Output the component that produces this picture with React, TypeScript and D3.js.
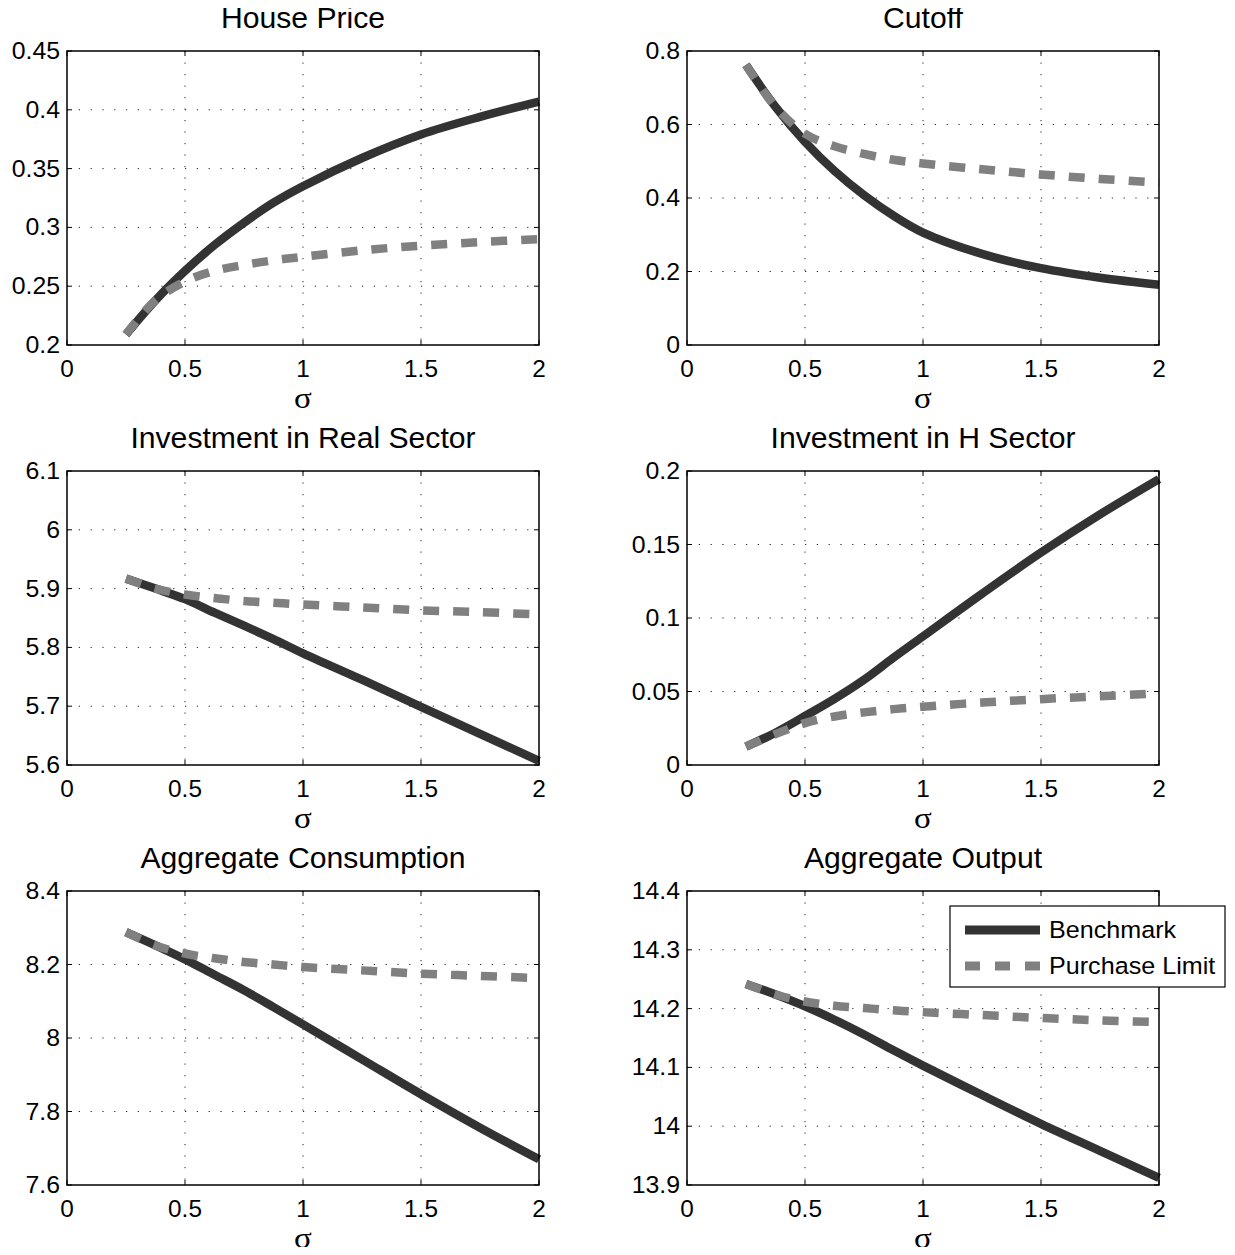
import { useEffect, useRef } from 'react';
import * as d3 from 'd3';

// sigma grid shared by all panels
const sigma = [0.25, 0.375, 0.5, 0.625, 0.75, 0.875, 1, 1.25, 1.5, 1.75, 2];
const xTicks = [0, 0.5, 1, 1.5, 2];

const housePriceBench = [0.209, 0.238, 0.263, 0.285, 0.304, 0.321, 0.335, 0.359, 0.379, 0.394, 0.407];
const housePriceLimit = [0.209, 0.238, 0.254, 0.263, 0.268, 0.272, 0.275, 0.2805, 0.2845, 0.2875, 0.29];

const cutoffBench = [0.762, 0.648, 0.553, 0.474, 0.408, 0.352, 0.306, 0.248, 0.209, 0.183, 0.164];
const cutoffLimit = [0.762, 0.648, 0.575, 0.541, 0.52, 0.504, 0.494, 0.478, 0.464, 0.452, 0.442];

const invRealBench = [5.917, 5.9, 5.882, 5.859, 5.837, 5.814, 5.79, 5.745, 5.699, 5.653, 5.607];
const invRealLimit = [5.917, 5.9, 5.89, 5.884, 5.879, 5.876, 5.873, 5.868, 5.863, 5.86, 5.856];

const invHBench = [0.0125, 0.022, 0.0333, 0.045, 0.058, 0.073, 0.0875, 0.1165, 0.1445, 0.1705, 0.1945];
const invHLimit = [0.0125, 0.021, 0.0285, 0.033, 0.0358, 0.038, 0.0397, 0.0425, 0.0448, 0.0468, 0.0487];

const consBench = [8.288, 8.252, 8.214, 8.172, 8.13, 8.084, 8.037, 7.942, 7.847, 7.756, 7.67];
const consLimit = [8.288, 8.252, 8.23, 8.217, 8.207, 8.2, 8.193, 8.184, 8.175, 8.169, 8.163];

const outBench = [14.242, 14.224, 14.204, 14.181, 14.156, 14.129, 14.103, 14.053, 14.004, 13.958, 13.912];
const outLimit = [14.242, 14.224, 14.212, 14.205, 14.201, 14.197, 14.194, 14.189, 14.184, 14.18, 14.177];

const panels = [
  { title: 'House Price', bench: housePriceBench, limit: housePriceLimit, yDomain: [0.2, 0.45], yTicks: [0.2, 0.25, 0.3, 0.35, 0.4, 0.45] },
  { title: 'Cutoff', bench: cutoffBench, limit: cutoffLimit, yDomain: [0, 0.8], yTicks: [0, 0.2, 0.4, 0.6, 0.8] },
  { title: 'Investment in Real Sector', bench: invRealBench, limit: invRealLimit, yDomain: [5.6, 6.1], yTicks: [5.6, 5.7, 5.8, 5.9, 6, 6.1] },
  { title: 'Investment in H Sector', bench: invHBench, limit: invHLimit, yDomain: [0, 0.2], yTicks: [0, 0.05, 0.1, 0.15, 0.2] },
  { title: 'Aggregate Consumption', bench: consBench, limit: consLimit, yDomain: [7.6, 8.4], yTicks: [7.6, 7.8, 8, 8.2, 8.4] },
  { title: 'Aggregate Output', bench: outBench, limit: outLimit, yDomain: [13.9, 14.4], yTicks: [13.9, 14, 14.1, 14.2, 14.3, 14.4] },
];

const legendLabels = ['Benchmark', 'Purchase Limit'];

const BENCH_COLOR = '#333333';
const LIMIT_COLOR = '#808080';
const FONT = '"Liberation Sans", Arial, Helvetica, sans-serif';

// text with an optional horizontal stretch
function addText(parent: any, x: number, y: number, str: string, size: number, anchor: string, sx: number, family = FONT) {
  parent.append('g')
    .attr('transform', `translate(${x},${y}) scale(${sx},1)`)
    .append('text')
    .attr('text-anchor', anchor)
    .attr('font-family', family)
    .attr('font-size', size)
    .attr('fill', '#000')
    .text(str);
}

export default function App() {
  const svgRef = useRef<SVGSVGElement | null>(null);

  useEffect(() => {
    if (!svgRef.current) return;
    const svg = d3.select(svgRef.current);
    svg.selectAll('*').remove();

    const width = 1235;
    const height = 1255;
    svg.attr('width', width).attr('height', height);

    svg.append('rect').attr('width', width).attr('height', height).attr('fill', '#fff');

    // plot box positions
    const colX = [67, 687];
    const rowY = [51, 471, 891];
    const w = 472;
    const h = 294;

    panels.forEach((p, i) => {
      const col = i % 2;
      const row = Math.floor(i / 2);
      const g = svg.append('g').attr('transform', `translate(${colX[col]},${rowY[row]})`);

      const x = d3.scaleLinear().domain([0, 2]).range([0, w]);
      const y = d3.scaleLinear().domain(p.yDomain).range([h, 0]);

      // dotted grid
      xTicks.slice(1, -1).forEach(t => {
        g.append('line')
          .attr('x1', x(t)).attr('x2', x(t)).attr('y1', 0).attr('y2', h)
          .attr('stroke', '#222').attr('stroke-width', 1)
          .attr('stroke-dasharray', '1.2,10.3');
      });
      p.yTicks.slice(1, -1).forEach(t => {
        g.append('line')
          .attr('x1', 0).attr('x2', w).attr('y1', y(t)).attr('y2', y(t))
          .attr('stroke', '#222').attr('stroke-width', 1)
          .attr('stroke-dasharray', '1.2,10.6');
      });

      // curves
      const line = d3.line<number>()
        .x((d, j) => x(sigma[j]))
        .y(d => y(d))
        .curve(d3.curveCatmullRom.alpha(0.5));

      g.append('path')
        .datum(p.bench)
        .attr('fill', 'none')
        .attr('stroke', BENCH_COLOR)
        .attr('stroke-width', 8.5)
        .attr('d', line);

      g.append('path')
        .datum(p.limit)
        .attr('fill', 'none')
        .attr('stroke', LIMIT_COLOR)
        .attr('stroke-width', 8.5)
        .attr('stroke-dasharray', '16,14')
        .attr('d', line);

      // box
      g.append('rect')
        .attr('width', w).attr('height', h)
        .attr('fill', 'none').attr('stroke', '#000').attr('stroke-width', 1.5);

      // ticks (inward, all sides)
      const tl = 5;
      xTicks.forEach(t => {
        g.append('line').attr('x1', x(t)).attr('x2', x(t)).attr('y1', h).attr('y2', h - tl).attr('stroke', '#000');
        g.append('line').attr('x1', x(t)).attr('x2', x(t)).attr('y1', 0).attr('y2', tl).attr('stroke', '#000');
        addText(g, x(t), h + 32, d3.format('~g')(t), 23, 'middle', 1.06);
      });
      p.yTicks.forEach(t => {
        g.append('line').attr('x1', 0).attr('x2', tl).attr('y1', y(t)).attr('y2', y(t)).attr('stroke', '#000');
        g.append('line').attr('x1', w).attr('x2', w - tl).attr('y1', y(t)).attr('y2', y(t)).attr('stroke', '#000');
        addText(g, -7, y(t) + 8, d3.format('~g')(t), 23, 'end', 1.08);
      });

      // title
      addText(g, w / 2, -23, p.title, 29, 'middle', 1.04);

      // x label
      addText(g, w / 2, h + 63, 'σ', 30, 'middle', 1.1, '"Liberation Serif", "DejaVu Serif", serif');
    });

    // legend in last panel
    const lg = svg.append('g').attr('transform', 'translate(950,906)');
    lg.append('rect')
      .attr('width', 275).attr('height', 81)
      .attr('fill', '#fff').attr('stroke', '#000').attr('stroke-width', 1.2);
    [BENCH_COLOR, LIMIT_COLOR].forEach((c, i) => {
      const yy = 24 + i * 36;
      lg.append('line')
        .attr('x1', 15).attr('x2', 90).attr('y1', yy).attr('y2', yy)
        .attr('stroke', c).attr('stroke-width', 9)
        .attr('stroke-dasharray', i === 1 ? '15,15' : null);
      addText(lg, 99, yy + 8, legendLabels[i], 23.5, 'start', 1.07);
    });
  }, []);

  return <svg ref={svgRef} style={{ display: 'block', margin: '-8px' }} />;
}
